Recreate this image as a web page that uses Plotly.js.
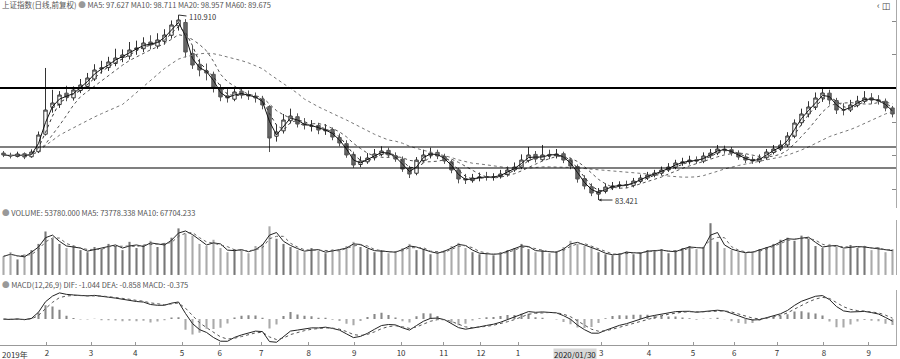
<!DOCTYPE html>
<html><head><meta charset="utf-8">
<script src="https://cdn.plot.ly/plotly-3.0.1.min.js"></script>
<style>html,body{margin:0;padding:0;background:#fff}#c{width:900px;height:359px}</style>
</head><body><div id="c"></div><script>
const open=[90.40,90.05,89.90,90.30,89.85,90.60,93.20,97.20,97.60,99.30,
98.60,99.70,100.30,101.40,102.90,103.10,103.70,104.60,104.80,105.80,
105.90,106.90,106.30,107.00,107.90,109.30,109.80,105.20,103.60,102.60,
102.10,99.90,98.90,98.40,99.60,99.10,98.80,98.40,97.30,92.90,
93.70,95.20,95.80,94.80,94.40,94.50,93.70,93.90,92.70,91.80,
90.20,88.70,89.10,89.70,90.20,90.80,90.00,89.50,88.10,87.40,
89.30,90.10,90.50,89.90,89.10,87.90,86.60,86.30,86.70,86.90,
86.80,86.90,87.20,87.90,88.30,89.30,90.20,89.40,90.20,90.00,
90.30,89.40,88.40,86.60,85.40,84.30,84.70,85.30,85.50,85.70,
85.60,86.20,86.70,87.10,87.40,87.90,88.30,88.90,89.10,89.40,
89.20,90.00,90.40,91.00,90.90,90.40,89.80,89.40,89.20,89.70,
90.50,91.00,91.60,92.90,94.90,96.20,97.20,98.60,99.30,98.20,
96.80,96.80,97.50,98.10,98.60,98.30,98.10,97.10];
const high=[90.70,90.45,90.60,90.50,90.95,93.60,103.04,99.80,99.60,100.40,
100.30,101.40,102.30,103.60,104.10,104.70,105.90,105.80,106.90,107.10,
107.60,107.90,108.20,108.80,110.10,110.91,110.30,106.30,104.40,103.70,
102.50,100.60,99.90,100.20,100.10,99.70,99.40,98.90,97.50,94.60,
96.20,97.00,96.30,95.60,95.30,94.90,94.70,94.20,93.30,92.30,
90.60,89.90,90.40,91.00,91.40,91.20,90.50,89.90,88.50,89.80,
90.90,91.20,90.90,90.30,89.40,88.20,87.30,87.30,87.50,87.60,
87.40,87.90,88.40,89.00,90.20,91.30,90.70,91.60,90.90,91.00,
90.60,89.70,88.70,87.10,85.90,85.20,85.90,86.10,86.20,86.30,
86.70,87.20,87.60,87.90,88.40,88.90,89.40,89.70,90.00,89.90,
90.50,91.00,91.60,91.50,91.30,90.80,90.20,89.90,90.20,91.00,
91.60,92.30,93.50,95.40,97.00,98.10,99.40,100.07,99.80,98.60,
97.80,98.30,98.90,99.60,99.30,99.00,98.50,97.40];
const low=[89.80,89.60,89.75,89.50,89.70,90.40,93.00,96.40,97.10,98.10,
98.20,99.30,100.00,101.10,102.20,102.60,103.30,103.90,104.30,105.00,
105.40,105.80,105.90,106.50,107.40,108.60,104.60,102.90,101.80,101.20,
99.40,98.10,97.90,98.10,98.50,98.30,97.90,96.90,90.55,92.10,
93.30,94.80,94.20,93.90,93.60,93.20,93.10,92.30,91.40,89.70,
88.20,88.30,88.80,89.30,89.90,89.70,89.10,87.60,86.69,87.10,
89.00,89.60,89.50,88.80,87.40,85.90,85.80,86.00,86.20,86.30,
86.30,86.60,86.90,87.60,88.00,89.00,89.00,89.20,89.50,89.60,
88.90,88.00,86.00,85.00,84.00,83.42,84.40,84.90,85.10,85.20,
85.30,85.90,86.40,86.80,87.10,87.60,88.00,88.50,88.70,88.80,
88.90,89.60,90.10,90.30,90.00,89.40,88.90,88.80,88.90,89.40,
90.20,90.70,91.30,92.60,94.50,95.70,96.80,98.00,97.60,96.20,
96.00,96.50,97.20,97.80,97.70,97.60,96.60,95.70];
const close=[90.11,89.96,90.26,89.81,90.55,93.08,96.79,97.83,99.02,98.73,
99.77,100.51,101.55,102.74,103.04,103.93,104.52,104.97,105.71,106.01,
106.75,106.45,107.20,107.94,109.43,110.17,105.41,103.48,102.74,102.29,
100.06,98.73,98.58,99.47,99.02,98.87,98.58,97.54,92.63,93.53,
95.31,95.90,94.71,94.57,94.42,93.82,93.82,92.78,91.89,90.11,
88.62,89.22,89.66,90.26,90.70,90.11,89.51,88.03,87.28,89.36,
90.11,90.40,89.96,89.22,87.88,86.54,86.39,86.69,86.84,86.84,
86.84,87.28,87.88,88.32,89.36,90.11,89.51,90.11,90.11,90.26,
89.36,88.47,86.54,85.50,84.46,84.61,85.35,85.50,85.65,85.65,
86.24,86.69,87.14,87.43,87.88,88.32,88.92,89.07,89.36,89.22,
89.96,90.40,91.00,90.85,90.40,89.81,89.36,89.22,89.66,90.55,
91.00,91.59,92.93,94.86,96.20,97.24,98.58,99.32,98.28,96.79,
96.79,97.54,98.13,98.58,98.28,98.13,97.09,96.20];
const volume=[18,22,15,20,24,30,42,35,30,26,
28,24,22,27,25,30,28,24,32,26,
29,33,27,31,36,45,40,38,30,28,
34,26,22,25,24,21,28,30,47,35,
30,27,24,22,26,23,21,25,24,28,
32,27,25,22,24,21,23,26,30,24,
25,20,22,24,28,31,26,22,20,21,
19,22,24,26,30,25,22,24,21,23,
27,33,30,28,26,22,20,19,21,23,
20,22,24,23,25,21,24,26,28,25,
27,50,32,26,24,22,21,23,25,27,
30,34,36,33,38,35,28,26,30,27,
25,29,26,28,24,27,22,25];
const monthTickPos=[6.2,12.5,18.8,25.5,30.9,36.8,43.6,50.1,56.8,62.9,68.2,73.5,85.4,92.2,98.5,104.4,110.5,117.2,123.6];
const monthTickText=['2','3','4','5','6','7','8','9','10','11','12','1','3','4','5','6','7','8','9'];
const levels=[100.07,91.30,88.18];
const levelWidths=[2,1.2,1.2];
const peakIdx=25, peakVal=110.91, lowIdx=85, lowVal=83.42;
const maWindows=[2,3,6,18];
const volMaWindows=[2,3];

const idx=close.map((_,i)=>i);
function ma(a,n){return a.map((_,i)=>{const s=Math.max(0,i-n+1);let t=0;for(let k=s;k<=i;k++)t+=a[k];return t/(i-s+1);});}
function ema(a,n){const k=2/(n+1);const o=[];a.forEach((v,i)=>o.push(i?o[i-1]+k*(v-o[i-1]):v));return o;}
const e1=ema(close,4), e2=ema(close,8);
const dif=e1.map((v,i)=>v-e2[i]);
const dea=ema(dif,3);
const hist=dif.map((v,i)=>2*(v-dea[i]));
const up=close.map((c,i)=>c>=open[i]);

const traces=[];
traces.push({type:'candlestick',x:idx,open,high,low,close,xaxis:'x',yaxis:'y',
  increasing:{line:{color:'#333',width:1},fillcolor:'#ffffff'},
  decreasing:{line:{color:'#555',width:1},fillcolor:'#666'},whiskerwidth:0,hoverinfo:'skip'});
const maCol=['#111','#333','#555','#777'];
const maDash=['solid','dot','dot','dot'];
maWindows.forEach((w,j)=>traces.push({type:'scatter',mode:'lines',x:idx,y:ma(close,w),yaxis:'y',
  line:{color:maCol[j],width:1,dash:maDash[j]},hoverinfo:'skip'}));
traces.push({type:'bar',x:idx,y:volume,yaxis:'y2',width:0.3,
  marker:{color:up.map(u=>u?'#777':'#aaa'),line:{width:0}},hoverinfo:'skip'});
volMaWindows.forEach((w,j)=>traces.push({type:'scatter',mode:'lines',x:idx,y:ma(volume,w),yaxis:'y2',
  line:{color:j?'#666':'#222',width:1,dash:j?'dot':'solid'},hoverinfo:'skip'}));
traces.push({type:'bar',x:idx,y:hist,yaxis:'y3',width:0.3,
  marker:{color:hist.map(h=>h>=0?'#888':'#aaa'),line:{width:0}},hoverinfo:'skip'});
traces.push({type:'scatter',mode:'lines',x:idx,y:dif,yaxis:'y3',line:{color:'#222',width:1,dash:'solid'},hoverinfo:'skip'});
traces.push({type:'scatter',mode:'lines',x:idx,y:dea,yaxis:'y3',line:{color:'#555',width:1,dash:'dot'},hoverinfo:'skip'});

const F="'Noto Sans CJK SC', 'DejaVu Sans', sans-serif";
const shapes=levels.map((v,i)=>({type:'line',xref:'paper',x0:0,x1:1,yref:'y',y0:v,y1:v,line:{color:'#000',width:levelWidths[i]}}));
const ann=[
 {xref:'paper',yref:'paper',x:0,y:0.987,xanchor:'left',yanchor:'middle',showarrow:false,
  text:'上证指数(日线,前复权) <span style="color:#999">●</span> MA5: 97.627 MA10: 98.711 MA20: 98.957 MA60: 89.675',font:{size:7.5,color:'#555',family:F}},
 {xref:'paper',yref:'paper',x:0,y:0.383,xanchor:'left',yanchor:'middle',showarrow:false,
  text:'<span style="color:#999">●</span> VOLUME: 53780.000 MA5: 73778.338 MA10: 67704.233',font:{size:7.5,color:'#555',family:F}},
 {xref:'paper',yref:'paper',x:0,y:0.174,xanchor:'left',yanchor:'middle',showarrow:false,
  text:'<span style="color:#999">●</span> MACD(12,26,9) DIF: -1.044 DEA: -0.858 MACD: -0.375',font:{size:7.5,color:'#555',family:F}},
 {x:peakIdx,y:peakVal,xref:'x',yref:'y',text:'110.910',showarrow:true,arrowhead:0,arrowwidth:1,arrowcolor:'#333',
  ax:8,ay:1,xanchor:'left',yanchor:'middle',font:{size:7.5,color:'#333',family:F}},
 {x:lowIdx,y:lowVal,xref:'x',yref:'y',text:'83.421',showarrow:true,arrowhead:2,arrowsize:0.6,arrowwidth:1,arrowcolor:'#333',
  ax:14,ay:0,xanchor:'left',font:{size:7.5,color:'#333',family:F}},
 {xref:'paper',yref:'paper',x:0,y:-0.027,xanchor:'left',yanchor:'middle',showarrow:false,text:'2019年',font:{size:8,color:'#333',family:F}},
 {xref:'x',yref:'paper',x:81.6,y:-0.027,xanchor:'center',yanchor:'middle',showarrow:false,text:'2020/01/30',bgcolor:'#d8d8d8',borderpad:0,font:{size:8,color:'#222',family:F}},
 {xref:'paper',yref:'paper',x:0.996,y:0.985,xanchor:'right',yanchor:'middle',showarrow:false,text:'‹ ◫',font:{size:9,color:'#444',family:F}}
];
const layout={width:900,height:359,margin:{l:0,r:4,t:0,b:14},paper_bgcolor:'#fff',plot_bgcolor:'#fff',showlegend:false,
 font:{family:F,size:8,color:'#333'},
 xaxis:{anchor:'y3',domain:[0,1],range:[-0.5,127.5],rangeslider:{visible:false},tickvals:monthTickPos,ticktext:monthTickText,
   showline:true,linecolor:'#999',linewidth:1,ticks:'inside',ticklen:3,tickcolor:'#999',showgrid:false,zeroline:false,
   ticklabelstandoff:0,tickfont:{size:8,color:'#333'}},
 yaxis:{domain:[0.397,1],range:[82.23,113.14],side:'right',showline:true,linecolor:'#aaa',ticks:'inside',ticklen:4,tickcolor:'#888',showticklabels:false,showgrid:false,zeroline:false},
 yaxis2:{domain:[0.203,0.362],range:[0,53],side:'right',showline:true,linecolor:'#aaa',ticks:'',showticklabels:false,showgrid:false,zeroline:false},
 yaxis3:{domain:[0,0.159],side:'right',showline:true,linecolor:'#aaa',ticks:'',showticklabels:false,showgrid:false,zeroline:false},
 shapes,annotations:ann,bargap:0.6};
Plotly.newPlot('c',traces,layout,{displayModeBar:false,staticPlot:true});
</script></body></html>
